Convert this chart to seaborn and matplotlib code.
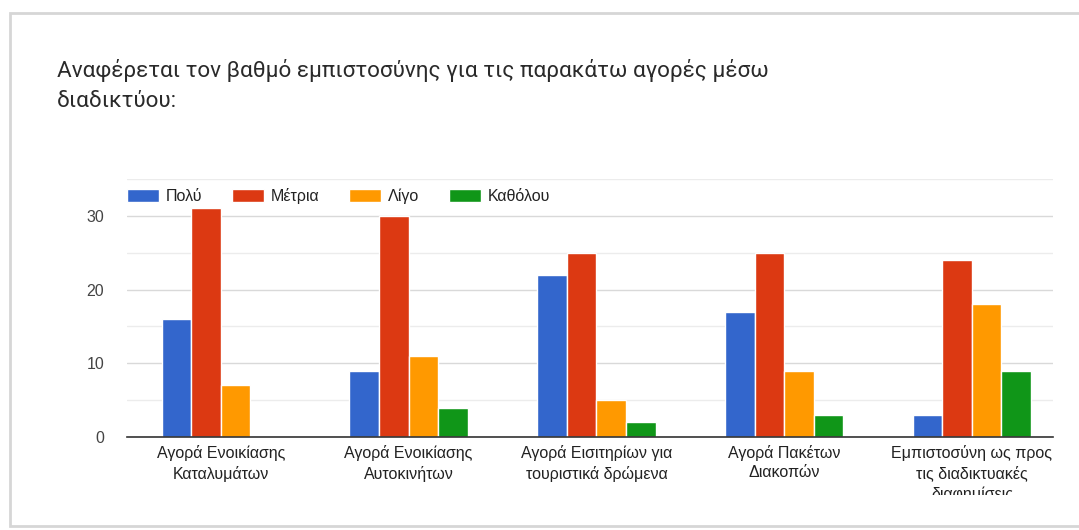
import matplotlib
matplotlib.use("Agg")
import matplotlib.pyplot as plt
from matplotlib.patches import Rectangle
from matplotlib.transforms import Bbox
import seaborn as sns
import pandas as pd

# Survey data: trust level for online purchases
categories = [
    "Αγορά Ενοικίασης\nΚαταλυμάτων",
    "Αγορά Ενοικίασης\nΑυτοκινήτων",
    "Αγορά Εισιτηρίων για\nτουριστικά δρώμενα",
    "Αγορά Πακέτων\nΔιακοπών",
    "Εμπιστοσύνη ως προς\nτις διαδικτυακές\nδιαφημίσεις",
]
series = ["Πολύ", "Μέτρια", "Λίγο", "Καθόλου"]
polu = [16, 9, 22, 17, 3]
metria = [31, 30, 25, 25, 24]
ligo = [7, 11, 5, 9, 18]
katholou = [0, 4, 2, 3, 9]
colors = ["#3366CC", "#DC3912", "#FF9900", "#109618"]
title = "Αναφέρεται τον βαθμό εμπιστοσύνης για τις παρακάτω αγορές μέσω\nδιαδικτύου:"

values = [polu, metria, ligo, katholou]
df = pd.DataFrame(
    [(c, s, v) for s, vals in zip(series, values) for c, v in zip(categories, vals)],
    columns=["category", "series", "value"],
)

sns.set_theme(style="white")
plt.rcParams["font.family"] = ["Liberation Sans", "DejaVu Sans"]

W, H = 1079, 530
fig = plt.figure(figsize=(W / 100, H / 100), dpi=100)
fig.patch.set_facecolor("white")

# card frame
fig.add_artist(Rectangle((10 / W, 1 - 526 / H), 1.2, (526 - 13) / H,
                         transform=fig.transFigure, facecolor="white",
                         edgecolor="#d6d6d6", linewidth=2.0, zorder=0))

fig.text(57 / W, 1 - 59 / H, title, ha="left", va="top", fontsize=16.2,
         color="#2a2a2a", family=["Roboto", "DejaVu Sans"], linespacing=1.55)

left, right, top, bottom = 127, 1053, 179, 437
ax = fig.add_axes([left / W, 1 - bottom / H, (right - left) / W, (bottom - top) / H])

sns.barplot(data=df, x="category", y="value", hue="series", hue_order=series,
            order=categories, palette=colors, width=0.63, gap=0,
            edgecolor="white", linewidth=1.0, saturation=1, ax=ax, zorder=3)

ax.set_xlim(-0.5, -0.5 + (right - left) / 187.75)
ax.set_ylim(0, 35)
ax.set_yticks([0, 10, 20, 30])
ax.set_yticks([5, 15, 25, 35], minor=True)
ax.grid(axis="y", which="major", color="#d9d9d9", linewidth=1.0, zorder=0)
ax.grid(axis="y", which="minor", color="#ececec", linewidth=1.0, zorder=0)
ax.set_axisbelow(True)
for s in ["top", "right", "left"]:
    ax.spines[s].set_visible(False)
ax.spines["bottom"].set_color("#333333")
ax.spines["bottom"].set_linewidth(1.2)
ax.spines["bottom"].set_zorder(5)
ax.set_xlabel("")
ax.set_ylabel("")
ax.tick_params(axis="y", which="both", length=0, pad=16.5, labelsize=11.5, labelcolor="#444444")
ax.tick_params(axis="x", length=0, labelbottom=False)

# category labels, cut off at the chart's right and bottom edges
clip = Bbox.from_extents(0, H - 495, right, H)
for xpos, lbl in zip(ax.get_xticks(), categories):
    t = ax.text(xpos, -0.03, lbl, transform=ax.get_xaxis_transform(), ha="center",
                va="top", fontsize=11.5, color="#222222", linespacing=1.38)
    t.set_clip_on(True)
    t.set_clip_box(clip)

handles, labels = ax.get_legend_handles_labels()
ax.legend(handles, labels, loc="center left", bbox_to_anchor=(0, (bottom - 196) / (bottom - top)),
          ncol=4, frameon=False, fontsize=11.5, handlelength=2.0, handleheight=0.8,
          handletextpad=0.4, columnspacing=1.9, borderaxespad=0, borderpad=0,
          labelcolor="#222222")

fig.savefig("out.png", dpi=100, facecolor="white")
